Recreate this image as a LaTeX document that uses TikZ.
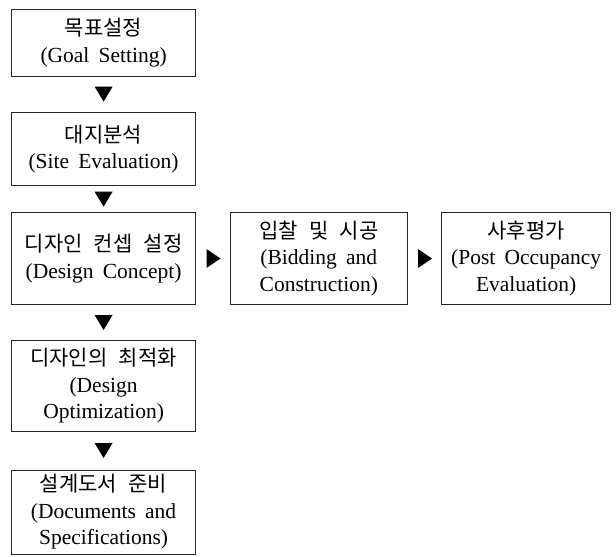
\documentclass[tikz,border=0pt]{standalone}
\usepackage{fontspec}
\setmainfont{Liberation Serif}[WordSpace=1.7]
\newfontfamily\krfont{Noto Sans CJK KR}[WordSpace=2.4]
\usetikzlibrary{calc}
\newcommand\ko[1]{{\krfont\fontsize{21}{26}\selectfont #1}}
\begin{document}
\begin{tikzpicture}[x=1pt,y=-1pt,
  stepbox/.style={draw=black!85, line width=0.9pt, align=center, inner sep=0pt,
    font=\fontsize{21.5}{26.5}\selectfont},
  arrowfill/.style={fill=black}]
\useasboundingbox (0,0) rectangle (616,557);
\node[stepbox, minimum width=184.2pt, minimum height=66.7pt] (b1) at (103.6,42.6)
  {\ko{목표설정}\\(Goal Setting)};
\node[stepbox, minimum width=184.2pt, minimum height=73.4pt] (b2) at (103.6,149)
  {\ko{대지분석}\\(Site Evaluation)};
\node[stepbox, minimum width=184.2pt, minimum height=91.6pt] (b3) at (103.6,258.5)
  {\ko{디자인 컨셉 설정}\\(Design Concept)};
\node[stepbox, minimum width=177pt, minimum height=91.6pt] (b4) at (318.8,258.5)
  {\ko{입찰 및 시공}\\(Bidding and\\Construction)};
\node[stepbox, minimum width=169pt, minimum height=91.6pt] (b5) at (526.2,258.5)
  {\ko{사후평가}\\(Post Occupancy\\Evaluation)};
\node[stepbox, minimum width=184.2pt, minimum height=90.3pt] (b6) at (103.6,385.9)
  {\ko{디자인의 최적화}\\(Design\\Optimization)};
\node[stepbox, minimum width=184.2pt, minimum height=84pt] (b7) at (103.6,512)
  {\ko{설계도서 준비}\\(Documents and\\Specifications)};
% down triangles
\foreach \a/\b in {b1/b2,b2/b3,b3/b6,b6/b7}{
  \coordinate (m) at ($(\a.south)!0.5!(\b.north)$);
  \fill[arrowfill] (m) ++(-9,-7.5) -- ++(18,0) -- ++(-9,15) -- cycle;
}
% right triangles
\foreach \a/\b in {b3/b4,b4/b5}{
  \coordinate (m) at ($(\a.east)!0.5!(\b.west)$);
  \fill[arrowfill] (m) ++(-6.5,-9.5) -- ++(0,19) -- ++(14,-9.5) -- cycle;
}
\end{tikzpicture}
\end{document}
